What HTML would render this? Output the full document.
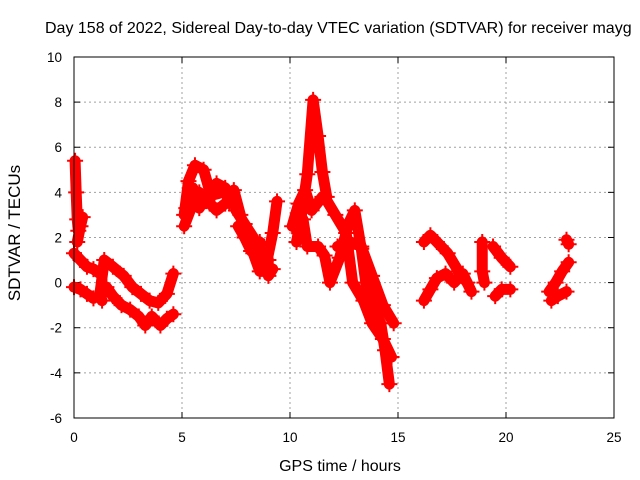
<!DOCTYPE html>
<html><head><meta charset="utf-8"><style>
body{margin:0;background:#fff;}
svg{display:block;font-family:"Liberation Sans",sans-serif;}
</style></head><body>
<svg id="chart" width="640" height="480">
<text x="45" y="33" font-size="16" fill="#000">Day 158 of 2022, Sidereal Day-to-day VTEC variation (SDTVAR) for receiver mayg</text>
<g id="grid"></g>
<g id="ticks"></g>
<g id="marks"></g>
<rect x="74" y="57" width="540" height="361" fill="none" stroke="#000" stroke-width="1"/>
<text x="340" y="471" font-size="16" text-anchor="middle">GPS time / hours</text>
<text transform="translate(20,233) rotate(-90)" font-size="17" text-anchor="middle">SDTVAR / TECUs</text>
</svg>
<script>
const xTicks=[0,5,10,15,20,25];
const yTicks=[-6,-4,-2,0,2,4,6,8,10];
const trackA=[[0,1.3],[0.3,1.0],[0.6,0.7],[0.9,0.6],[1.2,0.4]];
const trackB=[[0,-0.2],[0.3,-0.3],[0.6,-0.5],[0.9,-0.7]];
const trackC=[[0.05,5.4],[0.1,4.0],[0.15,2.8],[0.2,2.3]];
const trackD=[[0.15,1.8],[0.3,2.5],[0.4,2.9]];
const trackE=[[1.3,-0.8],[1.2,-0.5],[1.4,1.0],[1.8,0.7],[2.3,0.3],[2.7,-0.2],[3.1,-0.5],[3.5,-0.8],[3.9,-0.9],[4.3,-0.5],[4.6,0.4]];
const trackF=[[1.5,-0.2],[1.8,-0.6],[2.2,-1.0],[2.6,-1.2],[3.0,-1.5],[3.3,-1.9],[3.6,-1.5],[4.0,-1.9],[4.3,-1.6],[4.6,-1.4]];
const trackG=[[5.1,3.0],[5.3,4.5],[5.6,5.2],[6.0,5.0],[6.3,4.0],[6.6,4.4],[7.0,4.2],[7.2,3.5]];
const trackH=[[5.1,2.5],[5.5,3.5],[5.8,4.0],[6.3,3.5],[6.6,3.2],[7.0,3.5]];
const trackH2=[[5.2,3.3],[5.5,4.2],[5.8,3.3],[6.1,3.8],[6.5,3.9],[6.9,4.0]];
const trackI=[[7.4,4.1],[7.7,3.0],[8.0,2.0],[8.3,1.3],[8.6,0.5],[8.9,0.8],[9.2,2.2],[9.4,3.6]];
const trackJ=[[7.6,2.5],[7.9,2.0],[8.2,1.4],[8.6,1.8],[9.0,0.3],[9.2,0.6]];
const trackJ2=[[7.5,3.2],[7.9,2.6],[8.3,2.0],[8.6,1.2],[8.8,1.6],[9.0,1.0]];
const trackK=[[10.3,1.8],[10.5,2.8],[10.8,4.8],[11.07,8.1],[11.3,6.5],[11.5,4.9],[11.7,3.8],[11.5,3.8],[11.0,3.2],[10.7,4.1],[10.4,3.5],[10.1,2.5]];
const trackL=[[10.6,2.8],[10.8,1.6],[11.3,1.6],[11.6,1.2],[11.85,0.0],[12.3,1.1],[12.7,2.6],[13.0,3.2],[13.3,1.5],[13.55,-0.3],[13.9,-1.2],[14.2,-1.8],[14.4,-3.0],[14.6,-4.5]];
const trackM=[[11.6,3.8],[12.1,3.0],[12.6,2.2],[12.9,0.0],[13.4,-0.8],[13.8,-1.8],[14.3,-2.5],[14.7,-3.3]];
const trackN=[[12.2,1.6],[12.8,1.8],[13.3,1.6],[13.8,0.3],[14.3,-1.0],[14.8,-1.8]];
const trackO=[[16.2,1.8],[16.5,2.1],[16.8,1.8],[17.3,1.3],[17.8,0.5],[18.2,0.0]];
const trackP=[[16.2,-0.8],[16.5,-0.3],[16.8,0.2],[17.2,0.4],[17.6,0.0],[18.0,0.4],[18.4,-0.4]];
const trackQ=[[18.9,1.8],[18.9,0.5],[19.0,0.0]];
const trackR=[[19.4,1.6],[19.8,1.1],[20.2,0.7]];
const trackS=[[19.5,-0.6],[19.8,-0.3],[20.2,-0.3]];
const trackT=[[22.0,-0.4],[22.3,0.0],[22.6,0.5],[22.9,0.9]];
const trackU=[[22.1,-0.8],[22.4,-0.6],[22.8,-0.4]];
const trackV=[[22.8,1.9],[22.9,1.7]];
const tracks=[trackA,trackB,trackC,trackD,trackE,trackF,trackG,trackH,trackH2,trackI,trackJ,trackJ2,trackK,trackL,trackM,trackN,trackO,trackP,trackQ,trackR,trackS,trackT,trackU,trackV];

const NS='http://www.w3.org/2000/svg';
const X=t=>74+t*21.6;
const Y=v=>282.6-v*22.5625;
const grid=document.getElementById('grid'),ticks=document.getElementById('ticks'),marks=document.getElementById('marks');
function mk(tag,attrs,parent){const e=document.createElementNS(NS,tag);for(const k in attrs)e.setAttribute(k,attrs[k]);parent.appendChild(e);return e;}
xTicks.forEach(t=>{
  const x=X(t);
  if(t>0&&t<25){const g=mk('line',{x1:x,x2:x,y1:57,y2:418,stroke:'#a0a0a0','stroke-dasharray':'2,3'},grid);
  
  }
  mk('line',{x1:x,x2:x,y1:418,y2:412,stroke:'#000'},ticks);
  mk('line',{x1:x,x2:x,y1:57,y2:63,stroke:'#000'},ticks);
  const l=mk('text',{x:x,y:442,'font-size':13.5,'text-anchor':'middle'},ticks);l.textContent=t;
  
  
});
yTicks.forEach(v=>{
  const y=Y(v);
  if(v>-6&&v<10){const g=mk('line',{x1:74,x2:614,y1:y,y2:y,stroke:'#a0a0a0','stroke-dasharray':'2,3'},grid);
  
  }
  mk('line',{x1:74,x2:80,y1:y,y2:y,stroke:'#000'},ticks);
  mk('line',{x1:614,x2:608,y1:y,y2:y,stroke:'#000'},ticks);
  const l=mk('text',{x:62,y:y+5,'font-size':13.5,'text-anchor':'end'},ticks);l.textContent=v;
  
  
});
tracks.forEach(tr=>{
  const p=mk('polyline',{points:tr.map(d=>X(d[0])+','+Y(d[1])).join(' '),fill:'none',stroke:'#ff0000','stroke-width':11,'stroke-linejoin':'round','stroke-linecap':'round'},marks);
  
  
  tr.forEach(d=>{
    const x=X(d[0]),y=Y(d[1]);
    const m=mk('path',{d:`M${x-8},${y}H${x+8}M${x},${y-8}V${y+8}`,stroke:'#ff0000','stroke-width':2},marks);
    
    
  });
});
</script>
</body></html>
